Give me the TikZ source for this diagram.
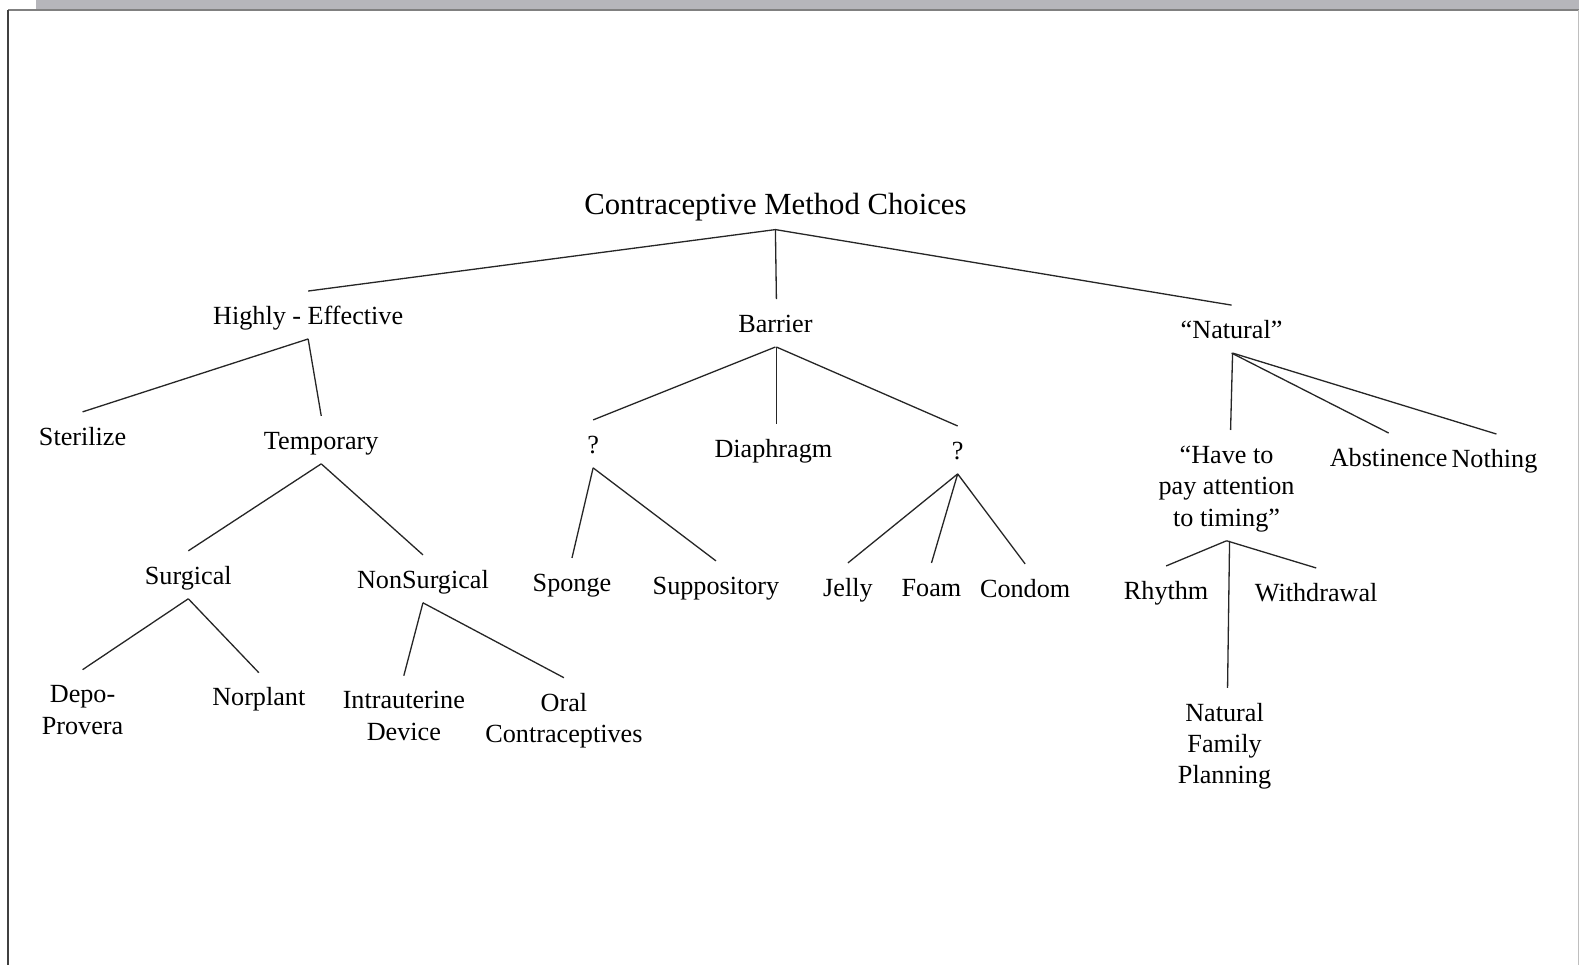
\documentclass[tikz,border=0pt]{standalone}
\usepackage{fontspec}
\setmainfont{Liberation Serif}
\newcommand\lbl[1]{\begin{tabular}[t]{@{}c@{}}#1\end{tabular}}
\begin{document}
\begin{tikzpicture}[x=1pt,y=-1pt,
  lab/.style={anchor=north,inner xsep=1pt,inner ysep=9pt,font=\fontsize{26}{31.2}\selectfont},
  conn/.style={line width=1.3pt,black!85}]
\useasboundingbox (0,0) rectangle (1568,958);
% scan frame
\fill[black!27!white!98!blue] (36,0) rectangle (1568,9);
\draw[line width=1.5pt,black!50] (8,10) -- (1568,10);
\draw[line width=1.8pt,black!75] (8,10) -- (8,958);
\draw[line width=1pt,black!25] (1567,10) -- (1567,958);
% nodes
\node[anchor=base,inner sep=0pt,font=\fontsize{30.5}{36}\selectfont] (title) at (770,213) {Contraceptive Method Choices};
\node[lab] (high) at (306,291) {\lbl{Highly - Effective}};
\node[lab] (barrier) at (770,299) {\lbl{Barrier}};
\node[lab] (natural) at (1223,305) {\lbl{``Natural''}};
\node[lab] (steril) at (82,411) {\lbl{Sterilize}};
\node[lab] (temp) at (319,415) {\lbl{Temporary}};
\node[lab] (q1) at (589,419) {\lbl{?}};
\node[lab] (diaph) at (768,423) {\lbl{Diaphragm}};
\node[lab] (q2) at (951,425) {\lbl{?}};
\node[lab] (haveto) at (1218,429) {\lbl{``Have to\\pay attention\\to timing''}};
\node[lab] (abst) at (1379,432) {\lbl{Abstinence}};
\node[lab] (nothing) at (1484,433) {\lbl{Nothing}};
\node[lab] (surg) at (187,549) {\lbl{Surgical}};
\node[lab] (nonsurg) at (420,553) {\lbl{NonSurgical}};
\node[lab] (sponge) at (568,556) {\lbl{Sponge}};
\node[lab] (supp) at (711,559) {\lbl{Suppository}};
\node[lab] (jelly) at (842,561) {\lbl{Jelly}};
\node[lab] (foam) at (925,561) {\lbl{Foam}};
\node[lab] (condom) at (1018,562) {\lbl{Condom}};
\node[lab] (rhythm) at (1158,564) {\lbl{Rhythm}};
\node[lab] (withd) at (1307,566) {\lbl{Withdrawal}};
\node[lab] (depo) at (82,667) {\lbl{Depo-\\Provera}};
\node[lab] (norp) at (257,670) {\lbl{Norplant}};
\node[lab] (iud) at (401,673) {\lbl{Intrauterine\\Device}};
\node[lab] (oral) at (560,675) {\lbl{Oral\\Contraceptives}};
\node[lab] (nfp) at (1216,685) {\lbl{Natural\\Family\\Planning}};
% connectors
\coordinate (tb) at ([yshift=-15pt]title.base);
\draw[conn] ([yshift=2pt]high.north) -- (tb) -- ([yshift=2pt]natural.north);
\draw[conn] (tb) -- ([xshift=1pt,yshift=2pt]barrier.north);
\foreach \p/\c in {high/steril,high/temp,barrier/q1,q2/jelly,q2/foam,q2/condom,
  natural/abst,temp/surg,temp/nonsurg,q1/sponge,q1/supp,
  haveto/rhythm,haveto/withd,surg/depo,surg/norp,nonsurg/iud,nonsurg/oral}
  \draw[conn] ([yshift=4pt]\p.south) -- ([yshift=2pt]\c.north);
\draw[conn] ([xshift=1pt,yshift=4pt]barrier.south) -- ([xshift=3pt,yshift=2pt]diaph.north);
\draw[conn] ([xshift=1pt,yshift=4pt]barrier.south) -- ([yshift=2pt]q2.north);
\draw[conn] ([xshift=1pt,yshift=4pt]natural.south) -- ([xshift=4pt,yshift=2pt]haveto.north);
\draw[conn] ([xshift=1pt,yshift=4pt]natural.south) -- ([xshift=2pt,yshift=2pt]nothing.north);
\draw[conn] ([xshift=3pt,yshift=4pt]haveto.south) -- ([xshift=3pt,yshift=2pt]nfp.north);
\end{tikzpicture}
\end{document}
